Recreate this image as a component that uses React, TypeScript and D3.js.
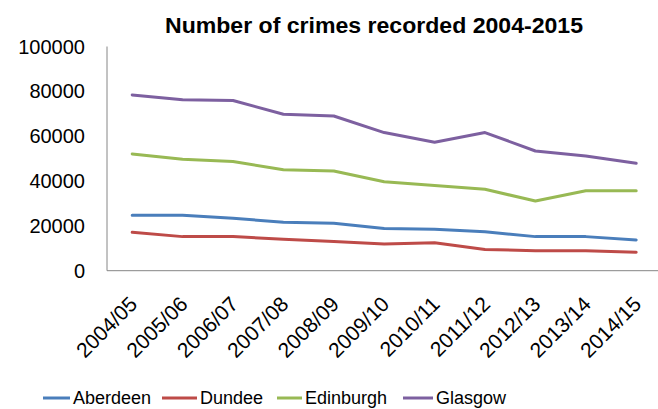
import React from "react";
import * as d3 from "d3";

const categories = ["2004/05","2005/06","2006/07","2007/08","2008/09","2009/10","2010/11","2011/12","2012/13","2013/14","2014/15"];
const aberdeen = [24700,24700,23400,21600,21200,18800,18500,17400,15200,15200,13700];
const dundee = [17100,15200,15200,14000,13000,11900,12500,9500,8900,8900,8200];
const edinburgh = [52100,49700,48700,45000,44500,39700,38000,36300,31100,35700,35700];
const glasgow = [78400,76200,75900,69800,69000,61600,57300,61600,53400,51200,47900];
const yTicks = [0,20000,40000,60000,80000,100000];
const seriesNames = ["Aberdeen","Dundee","Edinburgh","Glasgow"];
const seriesColors = ["#4A7EBB","#BE4B48","#98B954","#7D60A0"];
const seriesData = [aberdeen, dundee, edinburgh, glasgow];

export default function App() {
  const W = 658, H = 409;
  const x = d3.scaleBand<string>().domain(categories).range([107, 661.4]);
  const y = d3.scaleLinear().domain([0, 100000]).range([270.7, 46.5]);
  const line = d3.line<number>()
    .x((_, i) => (x(categories[i]) as number) + x.bandwidth() / 2)
    .y((d) => y(d));
  const font = "'Liberation Sans', Arial, sans-serif";
  const legendX = [43, 162, 277, 403];
  const legendLen = [27, 35, 25, 30];
  return (
    <svg width={W} height={H} style={{ position: "absolute", left: 0, top: 0, background: "#fff" }} fontFamily={font}>
      <text x={374} y={33} textAnchor="middle" fontWeight="bold" fontSize={22} textLength={418} lengthAdjust="spacingAndGlyphs" fill="#000">Number of crimes recorded 2004-2015</text>
      <line x1={107} x2={107} y1={y(100000)} y2={y(0)} stroke="#868686" strokeWidth={1} />
      <line x1={107} x2={661} y1={y(0)} y2={y(0)} stroke="#868686" strokeWidth={1} />
      {yTicks.map((t) => (
        <text key={t} x={85} y={y(t)} dy="0.35em" textAnchor="end" fontSize={20} fill="#000">{t}</text>
      ))}
      {categories.map((c) => {
        const cx = (x(c) as number) + x.bandwidth() / 2;
        return (
          <text key={c} transform={`translate(${cx - 4},${295}) rotate(-45)`} textAnchor="end" dy="0.7em" fontSize={21} fill="#000">{c}</text>
        );
      })}
      {seriesData.map((s, i) => (
        <path key={i} d={line(s) as string} fill="none" stroke={seriesColors[i]} strokeWidth={3} strokeLinejoin="round" strokeLinecap="round" />
      ))}
      {seriesNames.map((n, i) => (
        <g key={n}>
          <line x1={legendX[i]} x2={legendX[i] + legendLen[i]} y1={398} y2={398} stroke={seriesColors[i]} strokeWidth={3} />
          <text x={legendX[i] + legendLen[i] + 3} y={398} dy="0.35em" fontSize={18} fill="#000">{n}</text>
        </g>
      ))}
    </svg>
  );
}
